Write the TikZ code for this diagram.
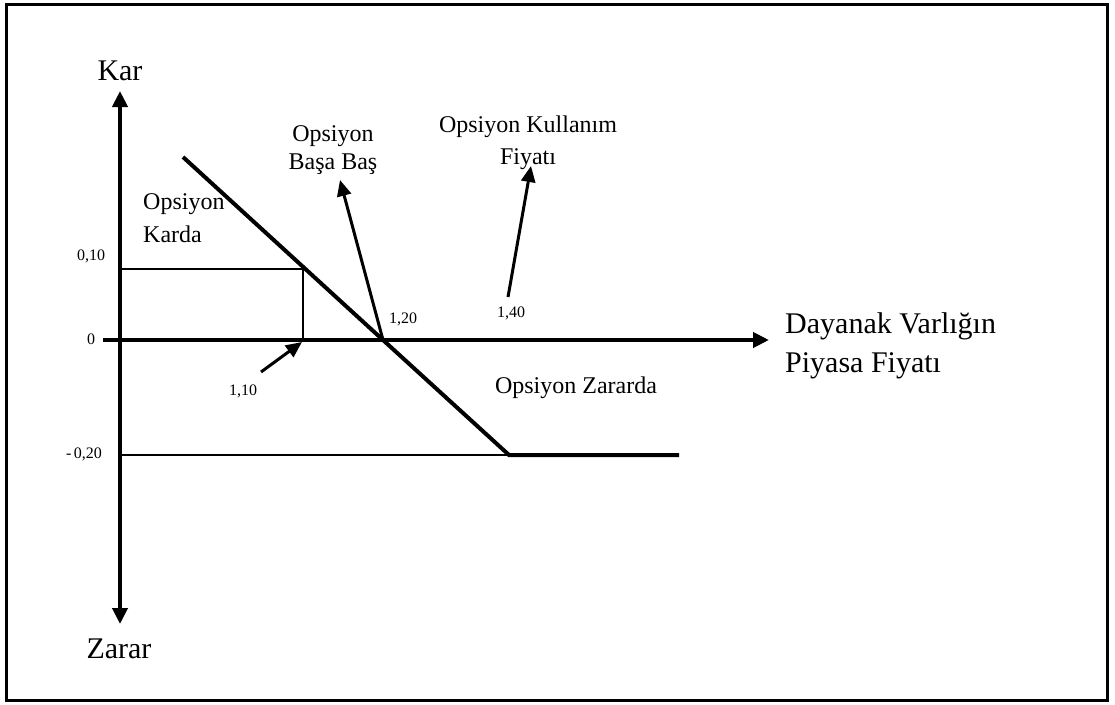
\documentclass[tikz,border=0pt]{standalone}
\usepackage{fontspec}
\setmainfont{Liberation Serif}
\usetikzlibrary{arrows.meta}
\begin{document}
\begin{tikzpicture}[x=1pt,y=-1pt,
  axisline/.style={line width=4pt,{Triangle[length=16pt,width=15pt]}-{Triangle[length=16pt,width=15pt]}},
  xaxisline/.style={line width=4pt,-{Triangle[length=16pt,width=15pt]}},
  pointer/.style={line width=3pt,-{Triangle[length=16pt,width=14pt]}},
  guide/.style={line width=1.7pt},
  payoff/.style={line width=4pt},
  biglabel/.style={font=\fontsize{30}{36}\selectfont, inner sep=0pt},
  midlabel/.style={font=\fontsize{24}{28}\selectfont, inner sep=0pt},
  smalllabel/.style={font=\fontsize{16}{19}\selectfont, inner sep=0pt, anchor=base}]
\useasboundingbox (0,0) rectangle (1115,704);
\draw[line width=3pt] (6,4) rectangle (1107,700);

% key points of the chart
\coordinate (ytop) at (120,91);
\coordinate (ybot) at (120,624);
\coordinate (xleft) at (103,340);
\coordinate (xright) at (769,340);
\coordinate (start) at (183,157);
\coordinate (breakeven) at (383,340);
\coordinate (kink) at (509,455);
\coordinate (tail) at (679,455);
\coordinate (p10) at (303,269);
\coordinate (y10) at (120,269);
\coordinate (x110) at (303,340);
\coordinate (ym20) at (120,455);
\coordinate (bbtip) at (340,180);
\coordinate (kfbase) at (508,297);
\coordinate (kftip) at (531,166);
\coordinate (k110base) at (261,372);
\coordinate (k110tip) at (302,342);

% labels
\node[biglabel, anchor=base] (kar) at (120,80) {Kar};
\node[biglabel, anchor=base] (zarar) at (119,658) {Zarar};
\node[biglabel, anchor=base west] (dayanak) at (785,333) {Dayanak Varlığın};
\node[biglabel, anchor=base west] (piyasa) at (785,372) {Piyasa Fiyatı};
\node[midlabel, anchor=base] (bb1) at (333,141) {Opsiyon};
\node[midlabel, anchor=base] (bb2) at (333,169) {Başa Baş};
\node[midlabel, anchor=base] (kf1) at (528,132) {Opsiyon Kullanım};
\node[midlabel, anchor=base] (kf2) at (528,164) {Fiyatı};
\node[midlabel, anchor=base west] (kd1) at (143,209) {Opsiyon};
\node[midlabel, anchor=base west] (kd2) at (143,242) {Karda};
\node[midlabel, anchor=base] (zr) at (576,393) {Opsiyon Zararda};
\node[smalllabel] (l010) at (91,260) {0,10};
\node[smalllabel] (l0) at (91,344) {0};
\node[smalllabel] (l110) at (243,395) {1,10};
\node[smalllabel] (l120) at (403,323) {1,20};
\node[smalllabel] (l140) at (511,317) {1,40};
\node[smalllabel] (lm20) at (84,458) {-\,0,20};

% guide lines
\draw[guide] (y10) -- (p10) -- (x110);
\draw[guide] (ym20) -- (kink);

% axes
\draw[axisline] (ybot) -- (ytop);
\draw[xaxisline] (xleft) -- (xright);

% payoff profile
\draw[payoff, line join=miter] (start) -- (breakeven) -- (kink) -- (tail);

% pointers
\draw[pointer] (breakeven) -- (bbtip);
\draw[pointer] (kfbase) -- (kftip);
\draw[pointer] (k110base) -- (k110tip);
\end{tikzpicture}
\end{document}
